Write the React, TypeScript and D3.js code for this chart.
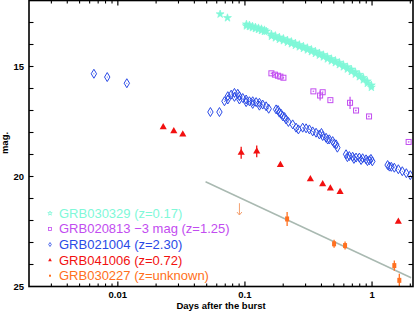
import * as d3 from "d3";

// [days, mag]
const grb030329: [number, number][] = [
  [0.0638, 12.62], [0.0729, 12.79],
  [0.1027, 13.08], [0.1027, 13.16], [0.1085, 13.12], [0.1085, 13.19], [0.1146, 13.17], [0.1146, 13.24],
  [0.1209, 13.21], [0.1209, 13.28], [0.1277, 13.25], [0.1277, 13.32], [0.1348, 13.29], [0.1348, 13.37],
  [0.1423, 13.34], [0.1423, 13.41], [0.1476, 13.4],
  [0.1615, 13.53], [0.1615, 13.63], [0.1737, 13.6], [0.1737, 13.7], [0.1866, 13.67], [0.1866, 13.77],
  [0.2008, 13.73], [0.2008, 13.83], [0.2159, 13.8], [0.2159, 13.9], [0.2321, 13.87], [0.2321, 13.97],
  [0.2495, 13.94], [0.2495, 14.04], [0.268, 14.01], [0.268, 14.11], [0.2884, 14.08], [0.2884, 14.18],
  [0.31, 14.15], [0.31, 14.25], [0.3333, 14.23], [0.3333, 14.33], [0.3583, 14.31], [0.3583, 14.41],
  [0.3852, 14.39], [0.3852, 14.49], [0.4141, 14.47], [0.4141, 14.57], [0.4452, 14.56], [0.4452, 14.66],
  [0.4786, 14.65], [0.4786, 14.75], [0.5145, 14.73], [0.5145, 14.83], [0.5534, 14.82], [0.5534, 14.92],
  [0.5948, 14.92], [0.5948, 15.02], [0.6394, 15.02], [0.6394, 15.12], [0.6874, 15.13], [0.6874, 15.23],
  [0.739, 15.25], [0.739, 15.35], [0.7947, 15.37], [0.7947, 15.47], [0.8543, 15.51], [0.8543, 15.61],
  [0.9184, 15.67], [0.9184, 15.77], [0.9874, 15.85], [0.9874, 15.95],
];

// [days, mag (shifted -3), error]
const grb020813: [number, number, number][] = [
  [0.1615, 15.31, 0], [0.1721, 15.37, 0], [0.1817, 15.42, 0], [0.1901, 15.46, 0], [0.2008, 15.51, 0],
  [0.3456, 16.13, 0], [0.4089, 16.17, 0], [0.3903, 16.32, 0.22], [0.4701, 16.53, 0],
  [0.6714, 16.65, 0.28], [0.7485, 17.0, 0], [0.9471, 17.27, 0], [1.94, 18.43, 0],
];

const grb021004: [number, number][] = [
  [0.00648, 15.33], [0.00825, 15.48], [0.01177, 15.76], [0.0535, 17.07], [0.063, 17.07],
  [0.069, 16.58], [0.0733, 16.35], [0.0779, 16.28], [0.0827, 16.2], [0.0878, 16.24], [0.0905, 16.35],
  [0.0961, 16.43], [0.1022, 16.5], [0.1085, 16.58], [0.1151, 16.58], [0.1225, 16.62], [0.13, 16.65],
  [0.138, 16.73], [0.1468, 16.81], [0.1538, 16.92],
  [0.0733, 16.5], [0.0827, 16.38], [0.0905, 16.5], [0.1022, 16.62], [0.1151, 16.7], [0.13, 16.78],
  [0.1759, 16.95], [0.1867, 17.1], [0.1982, 17.26], [0.2108, 17.41], [0.2198, 17.52],
  [0.182, 16.98], [0.1925, 17.15], [0.205, 17.3],
  [0.2375, 17.63], [0.2526, 17.78], [0.2634, 17.86],
  [0.2847, 17.78], [0.3028, 17.81], [0.3214, 17.86], [0.3412, 17.95], [0.3628, 18.01],
  [0.3852, 18.09], [0.4089, 18.16], [0.4349, 18.24], [0.4616, 18.31], [0.4901, 18.39], [0.5212, 18.54],
  [0.5336, 18.69], [0.4, 18.02], [0.448, 18.32], [0.505, 18.5],
  [0.6245, 18.99], [0.663, 19.07], [0.7038, 19.1], [0.7485, 19.14], [0.7947, 19.14], [0.8436, 19.17],
  [0.8971, 19.22], [0.9524, 19.26], [1.0055, 19.31], [0.64, 19.12], [0.72, 19.2], [0.82, 19.25],
  [0.92, 19.3], [0.98, 19.2],
  [1.326, 19.48], [1.37, 19.55], [1.418, 19.56], [1.497, 19.6], [1.61, 19.67], [1.73, 19.76],
  [1.861, 19.85], [2.0, 19.94],
];

const grb041006: [number, number, number][] = [
  [0.02275, 17.76, 0], [0.02756, 17.94, 0], [0.03243, 18.09, 0], [0.0934, 18.92, 0.27],
  [0.1238, 18.86, 0.27], [0.1901, 19.47, 0], [0.3272, 20.12, 0], [0.4089, 20.35, 0],
  [0.4701, 20.54, 0], [0.5603, 20.7, 0], [1.61, 22.05, 0],
];

const grb030227: [number, number, number][] = [
  [0.2147, 21.93, 0.32], [0.5027, 23.06, 0.18], [0.6134, 23.14, 0.18], [1.497, 24.05, 0.23],
  [1.639, 24.72, 0.3],
];
const grb030227Limit: [number, number] = [0.0905, 21.35];

const powerLaw: [number, number][] = [[0.049, 20.24], [2.03, 24.6]];

const legendItems = [
  { label: "GRB030329 (z=0.17)", color: "#80f8d8", kind: "star" },
  { label: "GRB020813 \u22123 mag (z=1.25)", color: "#c24cf0", kind: "square" },
  { label: "GRB021004 (z=2.30)", color: "#2a4ae6", kind: "diamond" },
  { label: "GRB041006 (z=0.72)", color: "#f21010", kind: "triangle" },
  { label: "GRB030227 (z=unknown)", color: "#ff7020", kind: "dot" },
];

const xMajor = [0.01, 0.1, 1];
const xMajorLabels = ["0.01", "0.1", "1"];
const yMajor = [15, 20, 25];

const W = 415, H = 312;
const L = 29, R = 413, T = 0.5, B = 286.5;
const font = "'Liberation Sans', Arial, Helvetica, sans-serif";

export default function App() {
  const x = d3.scaleLog().domain([0.002, 2.1]).range([L, R]);
  const y = d3.scaleLinear().domain([12, 25]).range([T, B]);

  const minors: number[] = [];
  [0.001, 0.01, 0.1, 1].forEach((dec) => {
    for (let k = 2; k <= 9; k++) {
      const v = dec * k;
      if (v > 0.002 && v < 2.1) minors.push(v);
    }
  });
  const yTicks = d3.range(13, 25);

  const star = d3.symbol(d3.symbolStar, 19)()!;
  const tri = d3.symbol(d3.symbolTriangle, 22)()!;
  const diamond = "M0,-4.5L2.7,0L0,4.5L-2.7,0Z";

  const c = legendItems.map((d) => d.color);
  const line = d3.line<[number, number]>().x((d) => x(d[0])).y((d) => y(d[1]));
  const limLen = y(grb030227Limit[1] + 0.4) - y(grb030227Limit[1]);

  return (
    <div style={{ position: "absolute", left: 0, top: 0 }}>
      <svg width={W} height={H} style={{ display: "block", background: "#fff" }}>
        <defs>
          <clipPath id="plot">
            <rect x={L} y={0} width={R - L} height={B} />
          </clipPath>
        </defs>

        <g clipPath="url(#plot)">
          <path d={line(powerLaw)!} stroke="#a9b9b1" strokeWidth={1.5} fill="none" />

          {grb030329.map((d, i) => (
            <path key={"s" + i} d={star} transform={`translate(${x(d[0])},${y(d[1])})`}
              fill={c[0]} stroke={c[0]} strokeWidth={0.7} />
          ))}

          {grb020813.map((d, i) => (
            <g key={"q" + i} transform={`translate(${x(d[0])},${y(d[1])})`} stroke={c[1]} fill="none">
              {d[2] > 0 && <line y1={y(d[1] - d[2]) - y(d[1])} y2={y(d[1] + d[2]) - y(d[1])} strokeWidth={1.2} />}
              <rect x={-2.5} y={-2.5} width={5} height={5} strokeWidth={1} />
              <rect x={-0.4} y={-0.4} width={0.8} height={0.8} strokeWidth={0.6} />
            </g>
          ))}

          {grb021004.map((d, i) => (
            <g key={"d" + i} transform={`translate(${x(d[0])},${y(d[1])})`}>
              <path d={diamond} fill="none" stroke={c[2]} strokeWidth={1} />
              <circle r={0.5} fill={c[2]} />
            </g>
          ))}

          {grb041006.map((d, i) => (
            <g key={"t" + i} transform={`translate(${x(d[0])},${y(d[1])})`}>
              {d[2] > 0 && <line y1={y(d[1] - d[2]) - y(d[1])} y2={y(d[1] + d[2]) - y(d[1])} stroke={c[3]} strokeWidth={1.3} />}
              <path d={tri} fill={c[3]} />
            </g>
          ))}

          <g transform={`translate(${x(grb030227Limit[0])},${y(grb030227Limit[1])})`} stroke="#f4a070" fill="none" strokeWidth={1}>
            <line y1={-3} y2={limLen} />
            <path d={`M-2.5,${limLen - 3}L0,${limLen}L2.5,${limLen - 3}`} />
          </g>
          {grb030227.map((d, i) => (
            <g key={"o" + i} transform={`translate(${x(d[0])},${y(d[1])})`}>
              <line y1={y(d[1] - d[2]) - y(d[1])} y2={y(d[1] + d[2]) - y(d[1])} stroke={c[4]} strokeWidth={1.3} />
              <rect x={-2} y={-2.5} width={4} height={5} fill={c[4]} />
            </g>
          ))}
        </g>

        {/* legend */}
        {legendItems.map((d, i) => {
          const by = 217.8 + i * 15.6;
          const cy = by - 4.5;
          return (
            <g key={"l" + i}>
              {d.kind === "star" && <path d={d3.symbol(d3.symbolStar, 6)()!} transform={`translate(50,${cy})`} fill="none" stroke={d.color} strokeWidth={0.8} />}
              {d.kind === "square" && <rect x={48.5} y={cy - 1.5} width={3} height={3} fill="none" stroke={d.color} strokeWidth={0.8} />}
              {d.kind === "diamond" && <path d="M0,-2L1.3,0L0,2L-1.3,0Z" transform={`translate(50,${cy})`} fill="none" stroke={d.color} strokeWidth={0.8} />}
              {d.kind === "triangle" && <path d={d3.symbol(d3.symbolTriangle, 6)()!} transform={`translate(50,${cy})`} fill={d.color} />}
              {d.kind === "dot" && <rect x={49} y={cy - 1} width={2} height={2} fill={d.color} />}
              <text x={59} y={by} fill={d.color} fontFamily={font} fontSize={13}>{d.label}</text>
            </g>
          );
        })}

        {/* axes frame */}
        <rect x={L} y={T} width={R - L} height={B - T} fill="none" stroke="#000" strokeWidth={1.6} />

        {/* x ticks, bottom and top, pointing inward */}
        {xMajor.map((v) => (
          <g key={"xm" + v}>
            <line x1={x(v)} x2={x(v)} y1={B} y2={B - 5} stroke="#000" strokeWidth={1.2} />
            <line x1={x(v)} x2={x(v)} y1={T} y2={T + 5} stroke="#000" strokeWidth={1.2} />
          </g>
        ))}
        {minors.map((v) => (
          <g key={"xn" + v}>
            <line x1={x(v)} x2={x(v)} y1={B} y2={B - 3} stroke="#000" strokeWidth={1.1} />
            <line x1={x(v)} x2={x(v)} y1={T} y2={T + 3} stroke="#000" strokeWidth={1.1} />
          </g>
        ))}
        {xMajor.map((v, i) => (
          <text key={"xl" + v} x={x(v)} y={298} textAnchor="middle" fontFamily={font} fontWeight="bold" fontSize={9.5}>{xMajorLabels[i]}</text>
        ))}

        {/* y ticks, left and right */}
        {yTicks.map((v) => (
          <g key={"yt" + v}>
            <line x1={L} x2={L + 4.5} y1={y(v)} y2={y(v)} stroke="#000" strokeWidth={1.1} />
            <line x1={R} x2={R - 4.5} y1={y(v)} y2={y(v)} stroke="#000" strokeWidth={1.1} />
          </g>
        ))}
        {yMajor.map((v) => (
          <text key={"yl" + v} x={24} y={y(v) + 3.5} textAnchor="end" fontFamily={font} fontWeight="bold" fontSize={9.5}>{v}</text>
        ))}

        <text x={221} y={309} textAnchor="middle" fontFamily={font} fontWeight="bold" fontSize={9.5}>Days after the burst</text>
        <text transform="translate(8,143) rotate(-90)" textAnchor="middle" fontFamily={font} fontWeight="bold" fontSize={9.5}>mag.</text>
      </svg>
    </div>
  );
}
